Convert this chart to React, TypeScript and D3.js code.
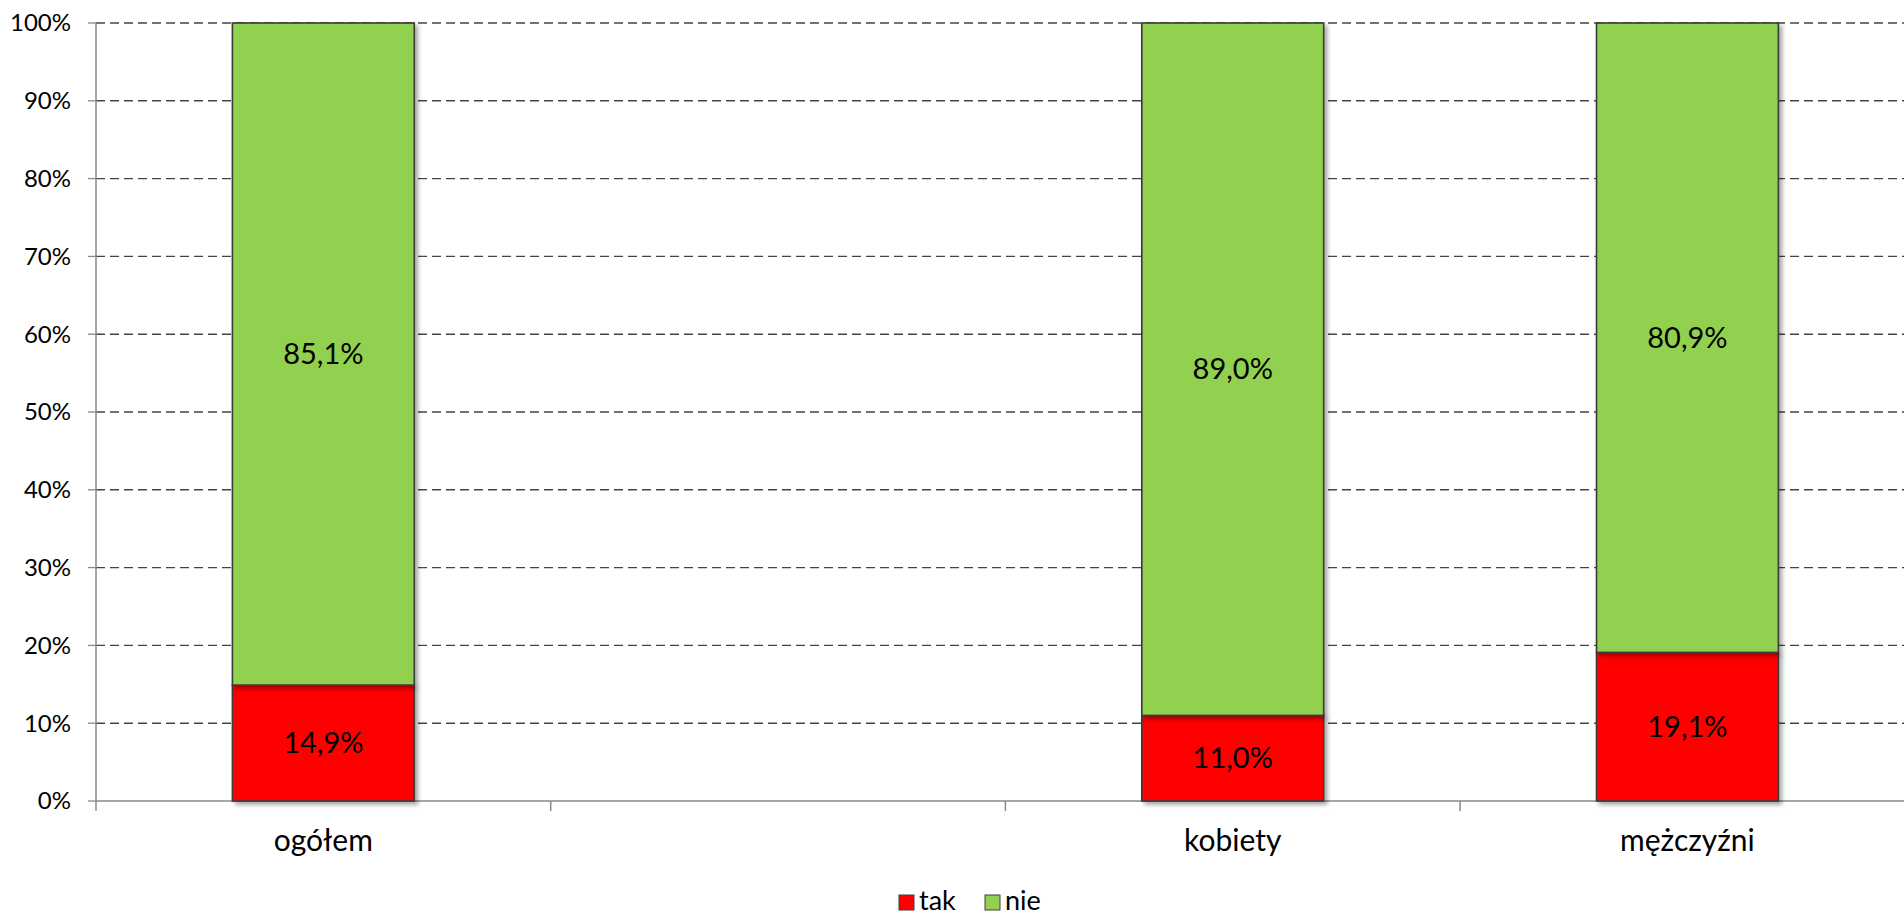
import React from "react";
import * as d3 from "d3";

const categories = ["ogółem", "", "kobiety", "mężczyźni"];
const takValues: (number | null)[] = [14.9, null, 11.0, 19.1];
const nieValues: (number | null)[] = [85.1, null, 89.0, 80.9];
const yTicks = [0, 10, 20, 30, 40, 50, 60, 70, 80, 90, 100];
const seriesNames = ["tak", "nie"];
const seriesColors = ["#FF0000", "#92D050"];

const W = 1904;
const H = 917;
const FONT = "Lato, 'Open Sans', sans-serif";

export default function App() {
  const x0 = 96;
  const step = 454.7;
  const x = d3
    .scaleBand<number>()
    .domain(categories.map((_, i) => i))
    .range([x0, x0 + step * categories.length])
    .padding(0);
  const y = d3.scaleLinear().domain([0, 100]).range([801, 23]);
  const barW = x.bandwidth() * 0.4;
  const fmt = (v: number) => v.toFixed(1).replace(".", ",") + "%";

  const stacks = categories.map((_, i) => {
    const t = takValues[i];
    const n = nieValues[i];
    if (t == null || n == null) return [];
    return [
      { s: 0, y0: 0, y1: t, v: t },
      { s: 1, y0: t, y1: t + n, v: n },
    ];
  });

  return (
    <svg
      width={W}
      height={H}
      style={{ position: "fixed", left: 0, top: 0, background: "#fff" }}
      fontFamily={FONT}
    >
      <defs>
        <filter id="sh" x="-20%" y="-20%" width="140%" height="140%">
          <feDropShadow dx="3" dy="3" stdDeviation="2" floodColor="#000" floodOpacity="0.35" />
        </filter>
      </defs>
      {/* gridlines */}
      {yTicks.filter((t) => t > 0).map((t) => (
        <line
          key={"g" + t}
          x1={x0}
          x2={W}
          y1={y(t)}
          y2={y(t)}
          stroke="#444"
          strokeWidth={1.4}
          strokeDasharray="9,5"
        />
      ))}
      {/* y ticks and labels */}
      {yTicks.map((t) => (
        <g key={"t" + t}>
          <line x1={88} x2={x0} y1={y(t)} y2={y(t)} stroke="#888" strokeWidth={1.3} />
          <text x={71} y={y(t)} dy="0.35em" textAnchor="end" fontSize={24} fill="#000">
            {t + "%"}
          </text>
        </g>
      ))}
      {/* axes */}
      <line x1={x0} x2={x0} y1={y(100)} y2={811} stroke="#888" strokeWidth={1.5} />
      <line x1={x0} x2={W} y1={y(0)} y2={y(0)} stroke="#888" strokeWidth={1.5} />
      {categories.map((_, i) => (
        <line
          key={"xt" + i}
          x1={(x(i) as number) + step}
          x2={(x(i) as number) + step}
          y1={y(0)}
          y2={811}
          stroke="#888"
          strokeWidth={1.5}
        />
      ))}
      {/* bars */}
      {stacks.map((segs, i) => {
        const cx = (x(i) as number) + x.bandwidth() / 2;
        return (
          <g key={"b" + i}>
            {segs.map((sg) => (
              <rect
                key={sg.s}
                x={cx - barW / 2}
                width={barW}
                y={y(sg.y1)}
                height={y(sg.y0) - y(sg.y1)}
                fill={seriesColors[sg.s]}
                stroke="#3a3a3a"
                strokeWidth={1.6}
                filter="url(#sh)"
              />
            ))}
            {segs.map((sg) => (
              <text
                key={"l" + sg.s}
                x={cx}
                y={y((sg.y0 + sg.y1) / 2)}
                dy="0.35em"
                textAnchor="middle"
                fontSize={29}
                fill="#000"
              >
                {fmt(sg.v)}
              </text>
            ))}
          </g>
        );
      })}
      {/* category labels */}
      {categories.map((c, i) => (
        <text
          key={"c" + i}
          x={(x(i) as number) + x.bandwidth() / 2}
          y={851}
          textAnchor="middle"
          fontSize={30}
          fill="#000"
        >
          {c}
        </text>
      ))}
      {/* legend */}
      {seriesNames.map((s, i) => {
        const lx = 899 + i * 86;
        return (
          <g key={"lg" + i}>
            <rect x={lx} y={895} width={15} height={15} fill={seriesColors[i]} stroke="#404040" strokeWidth={1} />
            <text x={lx + 20} y={910} fontSize={27} fill="#000">
              {s}
            </text>
          </g>
        );
      })}
    </svg>
  );
}
